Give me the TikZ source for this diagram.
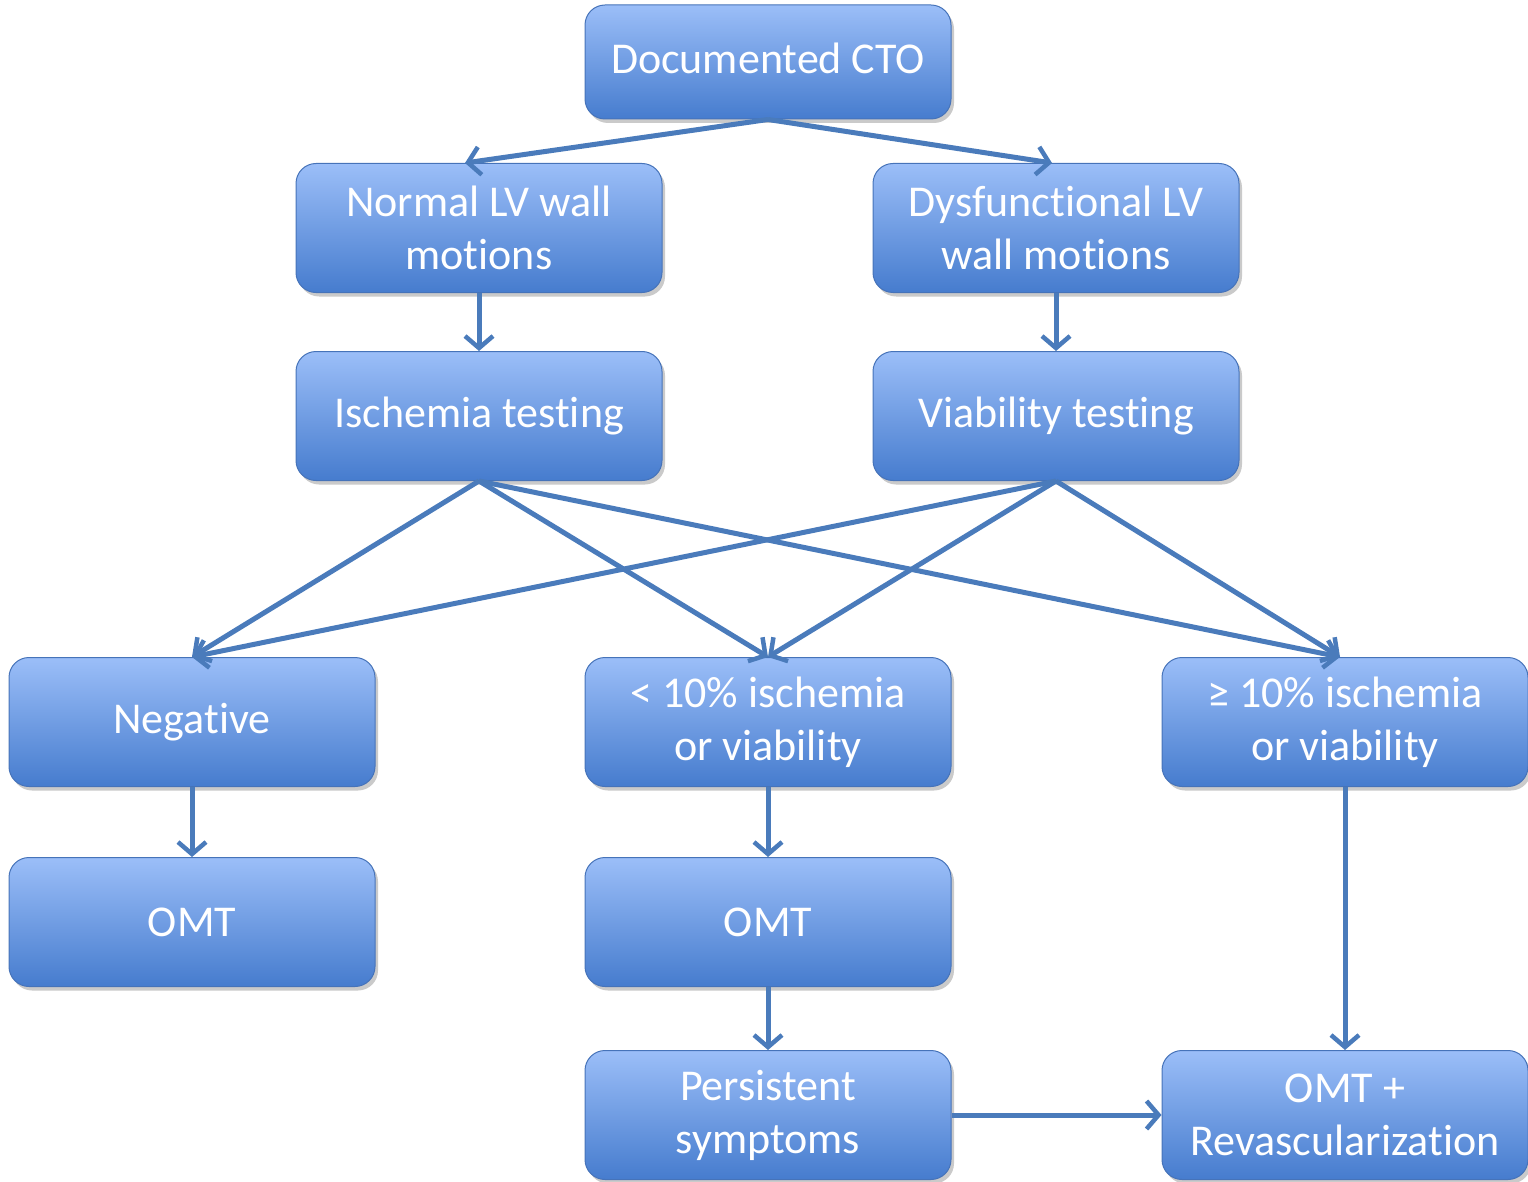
\documentclass[tikz,border=0pt]{standalone}
\usepackage{fontspec}
\setmainfont{Carlito}[Ligatures={NoCommon}]
\usetikzlibrary{arrows.meta,shadows}
\definecolor{boxtop}{RGB}{155,190,248}
\definecolor{boxbot}{RGB}{70,124,206}
\definecolor{boxline}{RGB}{70,115,185}
\definecolor{arr}{RGB}{74,123,187}
\tikzset{
  fbox/.style={draw=boxline, line width=1pt, rounded corners=20pt, top color=boxtop, bottom color=boxbot,
    minimum width=366pt, minimum height=129pt, inner sep=0pt, align=center, text=white,
    font=\fontsize{44}{53}\selectfont,
    drop shadow={opacity=0.35, shadow xshift=3pt, shadow yshift=-4pt, fill=black!60}},
  conn/.style={draw=arr, line width=5pt, -{Straight Barb[length=12pt,width=28pt,line width=4.5pt]}}
}
\begin{document}
\begin{tikzpicture}[x=1pt,y=-1pt]
\useasboundingbox (0,0) rectangle (1528,1182);
\node[fbox, minimum height=114pt] (cto) at (768,62) {\raisebox{8pt}{Documented CTO}};
\node[fbox] (normal) at (479,228) {Normal LV wall\\motions};
\node[fbox] (dys) at (1056,228) {Dysfunctional LV\\wall motions};
\node[fbox] (isch) at (479,416) {Ischemia testing};
\node[fbox] (viab) at (1056,416) {Viability testing};
\node[fbox] (neg) at (192,722) {Negative};
\node[fbox] (lt) at (768,722) {< 10\% ischemia\\or viability};
\node[fbox] (ge) at (1345,722) {≥ 10\% ischemia\\or viability};
\node[fbox] (omt1) at (192,922) {OMT};
\node[fbox] (omt2) at (768,922) {OMT};
\node[fbox] (pers) at (768,1115) {Persistent\\symptoms};
\node[fbox] (rev) at (1345,1115) {OMT +\\Revascularization};

\draw[conn] (cto.south) -- ([xshift=-14pt]normal.north);
\draw[conn] (cto.south) -- ([xshift=-4pt]dys.north);
\draw[conn] (normal.south) -- (isch.north);
\draw[conn] (dys.south) -- (viab.north);
\draw[conn] (isch.south) -- (neg.north);
\draw[conn] (isch.south) -- (lt.north);
\draw[conn] (isch.south) -- ([xshift=-5pt]ge.north);
\draw[conn] (viab.south) -- (neg.north);
\draw[conn] (viab.south) -- (lt.north);
\draw[conn] (viab.south) -- ([xshift=-5pt]ge.north);
\draw[conn] (neg.south) -- (omt1.north);
\draw[conn] (lt.south) -- (omt2.north);
\draw[conn] (omt2.south) -- (pers.north);
\draw[conn] (ge.south) -- (rev.north);
\draw[conn] (pers.east) -- (rev.west);
\end{tikzpicture}
\end{document}
